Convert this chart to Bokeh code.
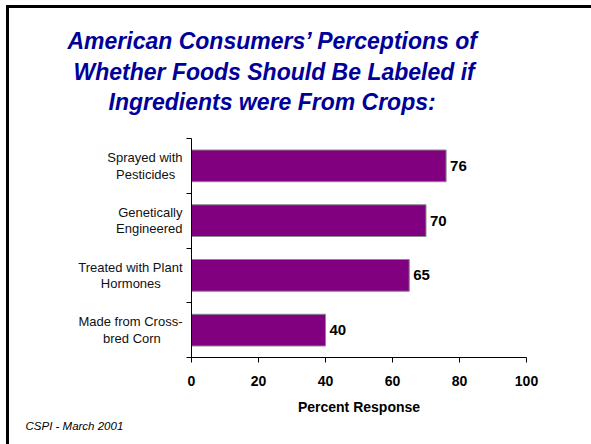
from bokeh.plotting import figure
from bokeh.models import (Range1d, FixedTicker, ColumnDataSource, LabelSet, Title)
from bokeh.core.properties import value
from bokeh.embed import file_html
from bokeh.resources import INLINE

# ---- data ----
categories = ["Sprayed with\nPesticides", "Genetically\nEngineered",
              "Treated with Plant\nHormones", "Made from Cross-\nbred Corn"]
values = [76, 70, 65, 40]
x_ticks = [0, 20, 40, 60, 80, 100]
title_lines = ["American Consumers\u2019 Perceptions of",
               "Whether Foods Should Be Labeled if",
               "Ingredients were From Crops:"]
x_label = "Percent Response"
footer = "CSPI - March  2001"

# style only: non-breaking spaces appended to the 2nd label line so that the
# two lines look centred on each other
label_pad = [2, 0, 6, 6]

n = len(categories)
positions = [n - i - 0.5 for i in range(n)]
display_labels = [c + "\u00a0" * k for c, k in zip(categories, label_pad)]
src = ColumnDataSource(dict(cat=categories, val=values, y=positions,
                            txt=[str(v) for v in values]))

FONT = "Liberation Sans"

p = figure(width=591, height=444, output_backend="svg", toolbar_location=None,
           x_range=Range1d(0, 100), y_range=Range1d(0, n), title=None,
           min_border_left=191, min_border_right=65, min_border_top=138,
           min_border_bottom=87)
# slide frame lines (top and left) drawn as the element's background
p.styles = {
    "background-color": "white",
    "background-image": "linear-gradient(#000, #000), linear-gradient(#000, #000)",
    "background-size": "3px 100%, 100% 3px",
    "background-position": "6px 5px, 6px 5px",
    "background-repeat": "no-repeat",
}
p.border_fill_alpha = 0
p.outline_line_color = None
p.grid.visible = False
p.background_fill_color = "white"

p.hbar(y="y", right="val", left=0, height=0.58, source=src,
       fill_color="#800080", line_color="#8c8c8c", line_width=1)

# spacer between plot and title block (first added sits closest to the plot)
p.add_layout(Title(text="\u00a0", text_font=FONT, text_font_size="10px",
                   standoff=10), "above")
# title lines
title_offsets = [-124, -118, -83]
title_standoffs = [3, 2, 2]
for line, off, so in reversed(list(zip(title_lines, title_offsets, title_standoffs))):
    p.add_layout(Title(text=line, align="left", offset=off, standoff=so,
                       text_font=FONT, text_font_size="23px",
                       text_font_style="bold italic", text_color="#000099"),
                 "above")

# x axis
xa = p.xaxis[0]
xa.ticker = FixedTicker(ticks=x_ticks)
xa.minor_tick_line_color = None
xa.major_tick_out = 5
xa.major_tick_in = 0
xa.axis_line_color = "black"
xa.major_tick_line_color = "black"
xa.major_label_text_font = FONT
xa.major_label_text_font_style = "bold"
xa.major_label_text_font_size = "14px"
xa.major_label_text_color = "black"
xa.major_label_standoff = 13
xa.axis_label = x_label
xa.axis_label_text_font = FONT
xa.axis_label_text_font_style = "bold"
xa.axis_label_text_font_size = "14px"
xa.axis_label_text_color = "black"
xa.axis_label_standoff = 10

# y axis: labels at category centres, tick marks at boundaries (minor ticks)
ya = p.yaxis[0]
ya.ticker = FixedTicker(ticks=positions, minor_ticks=list(range(n + 1)))
ya.major_label_overrides = {pos: lab for pos, lab in zip(positions, display_labels)}
ya.major_tick_line_color = None
ya.major_tick_out = 0
ya.major_tick_in = 0
ya.minor_tick_out = 5
ya.minor_tick_in = 0
ya.minor_tick_line_color = "black"
ya.axis_line_color = "black"
ya.major_label_standoff = 4
ya.major_label_text_font = FONT
ya.major_label_text_font_size = "13px"
ya.major_label_text_color = "#111111"
ya.major_label_text_line_height = 1.1

# value labels
p.add_layout(LabelSet(x="val", y="y", text="txt", source=src, x_offset=4,
                      text_align="left", text_baseline="middle",
                      text_font=value(FONT), text_font_size="15px",
                      text_font_style="bold", text_color="black"))

# footer
p.add_layout(Title(text=footer, align="left", offset=-166, text_font=FONT,
                   text_font_size="11.5px", text_font_style="italic",
                   text_color="black", standoff=0), "below")

open("out.html", "w").write(file_html(p, INLINE))
